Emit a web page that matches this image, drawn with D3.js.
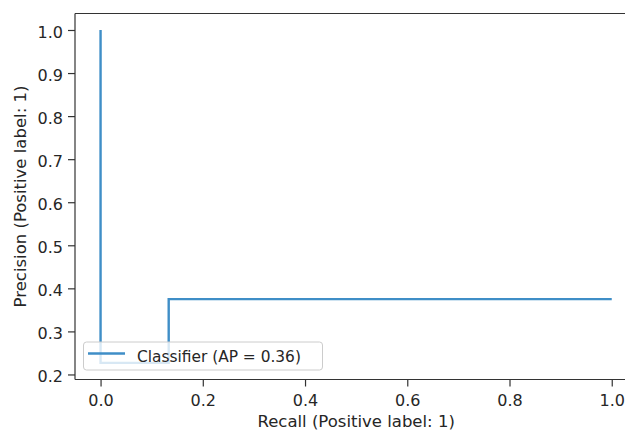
<!DOCTYPE html>
<html>
<head>
<meta charset="utf-8">
<script src="https://cdn.jsdelivr.net/npm/d3@7"></script>
<style>
  html, body { margin: 0; padding: 0; background: #fff; }
  svg { display: block; }
  text { font-family: "DejaVu Sans", sans-serif; fill: #262626; }
</style>
</head>
<body>
<script>
// Data (steps-post precision-recall curve)
const recall = [1.0, 0.1333, 0.0];
const precision = [0.375, 0.227, 1.0];
const xTicks = [0.0, 0.2, 0.4, 0.6, 0.8, 1.0];
const yTicks = [0.2, 0.3, 0.4, 0.5, 0.6, 0.7, 0.8, 0.9, 1.0];
const legendLabel = "Classifier (AP = 0.36)";
const xLabel = "Recall (Positive label: 1)";
const yLabel = "Precision (Positive label: 1)";

const W = 625, H = 430;
const pLeft = 75, pTop = 13.5, pRight = 637.3, pBottom = 379.5;
const lineColor = "#3f8ec7";

const x = d3.scaleLinear().domain([-0.05, 1.05]).range([pLeft, pRight]);
const y = d3.scaleLinear().domain([0.1883, 1.0383]).range([pBottom, pTop]);

const svg = d3.select("body").append("svg").attr("width", W).attr("height", H);

const pts = recall.map((r, i) => [r, precision[i]]);
const line = d3.line().x(d => x(d[0])).y(d => y(d[1])).curve(d3.curveStepAfter);

svg.append("path").datum(pts)
  .attr("d", line)
  .attr("fill", "none")
  .attr("stroke", lineColor)
  .attr("stroke-width", 2.4)
  .attr("stroke-linejoin", "miter")
  .attr("stroke-linecap", "butt");

// Axes
const xAxis = d3.axisBottom(x).tickValues(xTicks).tickFormat(d3.format(".1f"))
  .tickSize(7).tickPadding(8.5).tickSizeOuter(0);
const yAxis = d3.axisLeft(y).tickValues(yTicks).tickFormat(d3.format(".1f"))
  .tickSize(7).tickPadding(5).tickSizeOuter(0);

const gx = svg.append("g").attr("transform", `translate(0,${pBottom})`).call(xAxis);
const gy = svg.append("g").attr("transform", `translate(${pLeft},0)`).call(yAxis);
[gx, gy].forEach(g => {
  g.select(".domain").remove();
  g.selectAll(".tick line").attr("stroke", "#333").attr("stroke-width", 1.2);
  g.selectAll(".tick text").attr("font-size", 16).attr("font-family", "DejaVu Sans").attr("fill", "#262626");
});
gy.selectAll(".tick text").attr("dy", "0.45em");

// Spines
const spine = svg.append("g").attr("stroke", "#333").attr("stroke-width", 1.2).attr("fill", "none");
spine.append("line").attr("x1", pLeft).attr("x2", pRight).attr("y1", pBottom).attr("y2", pBottom);
spine.append("line").attr("x1", pLeft).attr("x2", pRight).attr("y1", pTop).attr("y2", pTop);
spine.append("line").attr("x1", pLeft).attr("x2", pLeft).attr("y1", pTop).attr("y2", pBottom);
spine.append("line").attr("x1", pRight).attr("x2", pRight).attr("y1", pTop).attr("y2", pBottom);

// Axis labels
svg.append("text").attr("x", (pLeft + pRight) / 2).attr("y", 427)
  .attr("text-anchor", "middle").attr("font-size", 16.5).text(xLabel);
svg.append("text").attr("transform", `translate(25.5,${(pTop + pBottom) / 2}) rotate(-90)`)
  .attr("text-anchor", "middle").attr("font-size", 16.5).text(yLabel);

// Legend
const lg = svg.append("g");
lg.append("rect").attr("x", 83.5).attr("y", 342).attr("width", 239).attr("height", 28)
  .attr("rx", 3).attr("fill", "#fff").attr("fill-opacity", 0.8)
  .attr("stroke", "#cccccc").attr("stroke-width", 1);
lg.append("line").attr("x1", 88).attr("x2", 125).attr("y1", 353.5).attr("y2", 353.5)
  .attr("stroke", lineColor).attr("stroke-width", 2.4);
lg.append("text").attr("x", 137).attr("y", 361.5).attr("font-size", 15.4).text(legendLabel);
</script>
</body>
</html>
